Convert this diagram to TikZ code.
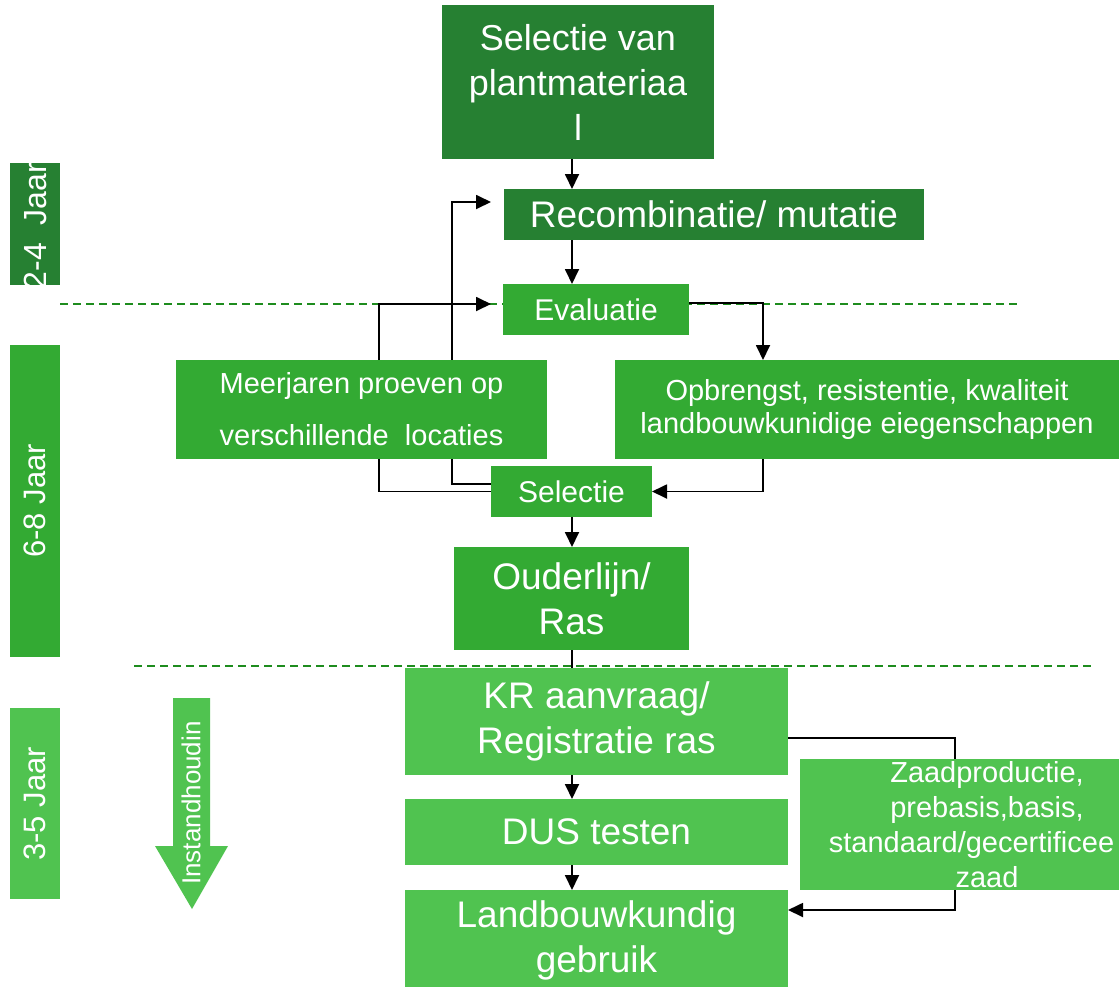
\documentclass[tikz,border=0pt]{standalone}
\usepackage{fontspec}
\setmainfont{Liberation Sans}
\usepackage{xcolor}
\usetikzlibrary{arrows.meta,backgrounds,positioning}
\definecolor{dkgreen}{RGB}{38,128,50}
\definecolor{mdgreen}{RGB}{51,170,51}
\definecolor{ltgreen}{RGB}{80,195,80}
\definecolor{dashgreen}{RGB}{30,140,30}

\begin{document}
\begin{tikzpicture}[x=1pt,y=-1pt,
	box/.style={rectangle,inner sep=0pt,outer sep=0pt,text=white,align=center},
	bigtext/.style={font=\fontsize{37}{45}\selectfont},
	midtext/.style={font=\fontsize{30}{36}\selectfont},
	smalltext/.style={font=\fontsize{29}{35}\selectfont},
	yeartext/.style={text=white,rotate=90,inner sep=0pt,font=\fontsize{31}{35}\selectfont},
	arr/.style={line width=1.8pt,-{Triangle[length=15pt,width=14pt]}},
	link/.style={line width=1.8pt},
	dashline/.style={dashgreen,line width=1.5pt,dash pattern=on 8pt off 5pt}]
	\useasboundingbox (0,0) rectangle (1119,986);
	% helper columns for the connectors
	\coordinate (spine) at (572,0);
	\coordinate (rspine) at (763,0);
	\coordinate (zspine) at (955,0);
	\coordinate (fb1) at (452,0);
	\coordinate (fb2) at (379,0);
	% year bars on the left
	\node[box,fill=dkgreen,minimum width=50,minimum height=122] (bar24) at (35,224) {};
	\begin{scope}
		\clip (10,163) rectangle (60,285);
		\node[yeartext,font=\fontsize{32}{36}\selectfont] (txt24) at (35,226) {2-4\ \ Jaar};
	\end{scope}
	\node[box,fill=mdgreen,minimum width=50,minimum height=312] (bar68) at (35,501) {};
	\node[yeartext] (txt68) at (35,501) {6-8 Jaar};
	\node[box,fill=ltgreen,minimum width=50,minimum height=191] (bar35) at (35,803.5) {};
	\node[yeartext] (txt35) at (35,804) {3-5 Jaar};
	% instandhouding arrow
	\fill[ltgreen] (173,698) -- (210,698) -- (210,846) -- (228,846) -- (192,909) -- (155,846) -- (173,846) -- cycle;
	\node[yeartext,font=\fontsize{26}{30}\selectfont] (inst) at (191,803) {Instandhoudin};
	% main boxes
	\node[box,bigtext,fill=dkgreen,minimum width=272,minimum height=154,font=\fontsize{36}{45}\selectfont] (sel) at (578,82) {Selectie van\\plantmateriaa\\l};
	\node[box,bigtext,fill=dkgreen,minimum width=420,minimum height=51] (rec) at (714,214.5) {Recombinatie/ mutatie};
	\node[box,midtext,fill=mdgreen,minimum width=186,minimum height=51] (eval) at (596,309.5) {Evaluatie};
	\node[box,fill=mdgreen,minimum width=371,minimum height=99,font=\fontsize{29}{52}\selectfont] (meer) at (361.5,409.5) {Meerjaren proeven op\\verschillende\ \ locaties};
	\node[box,smalltext,fill=mdgreen,minimum width=504,minimum height=99,font=\fontsize{29}{33}\selectfont] (opb) at (867,409.5) {Opbrengst, resistentie, kwaliteit\\landbouwkunidige eiegenschappen};
	\node[box,midtext,fill=mdgreen,minimum width=161,minimum height=51] (selc) at (571.5,491.5) {Selectie};
	\node[box,bigtext,fill=mdgreen,minimum width=235,minimum height=103] (oud) at (571.5,598.5) {Ouderlijn/\\Ras};
	\node[box,bigtext,fill=ltgreen,minimum width=383,minimum height=107] (kr) at (596.5,721.5) {KR aanvraag/\\Registratie ras};
	\node[box,bigtext,fill=ltgreen,minimum width=383,minimum height=66] (dus) at (596.5,832) {DUS testen};
	\node[box,bigtext,fill=ltgreen,minimum width=383,minimum height=100] (land) at (596.5,940) {Landbouwkundig\\gebruik};
	\node[box,smalltext,fill=ltgreen,minimum width=374,minimum height=131] (zaad) at (987,824.5) {Zaadproductie,\\prebasis,basis,\\\kern-31pt standaard/gecertificee\\zaad};
	% arrow end points beside the boxes
	\coordinate (recin) at ([xshift=-13pt,yshift=12.5pt]rec.west);
	\coordinate (evalin) at ([xshift=-12pt,yshift=5.5pt]eval.west);
	\begin{scope}[on background layer]
		\draw[dashline] (60,304) -- (1020,304);
		\draw[dashline] (134,666) -- (1095,666);
		\draw[arr] (sel.south -| spine) -- (rec.north -| spine);
		\draw[arr] (rec.south -| spine) -- (eval.north -| spine);
		\draw[arr] ([yshift=6.5pt]eval.east) -| (opb.north -| rspine);
		\draw[arr] (opb.south -| rspine) |- (selc.east);
		\draw[arr] ([yshift=7.5pt]selc.west) -| (fb1 |- recin) -- (recin);
		\draw[arr] (selc.west) -| (fb2 |- evalin) -- (evalin);
		\draw[arr] (selc.south -| spine) -- (oud.north -| spine);
		\draw[link] (oud.south -| spine) -- (kr.north -| spine);
		\draw[arr] (kr.south -| spine) -- (dus.north -| spine);
		\draw[arr] (dus.south -| spine) -- (land.north -| spine);
		\draw[link] ([yshift=-16.5pt]kr.east) -| (zaad.north -| zspine);
		\draw[arr] (zaad.south -| zspine) |- ([yshift=30pt]land.east);
	\end{scope}
\end{tikzpicture}
\end{document}
